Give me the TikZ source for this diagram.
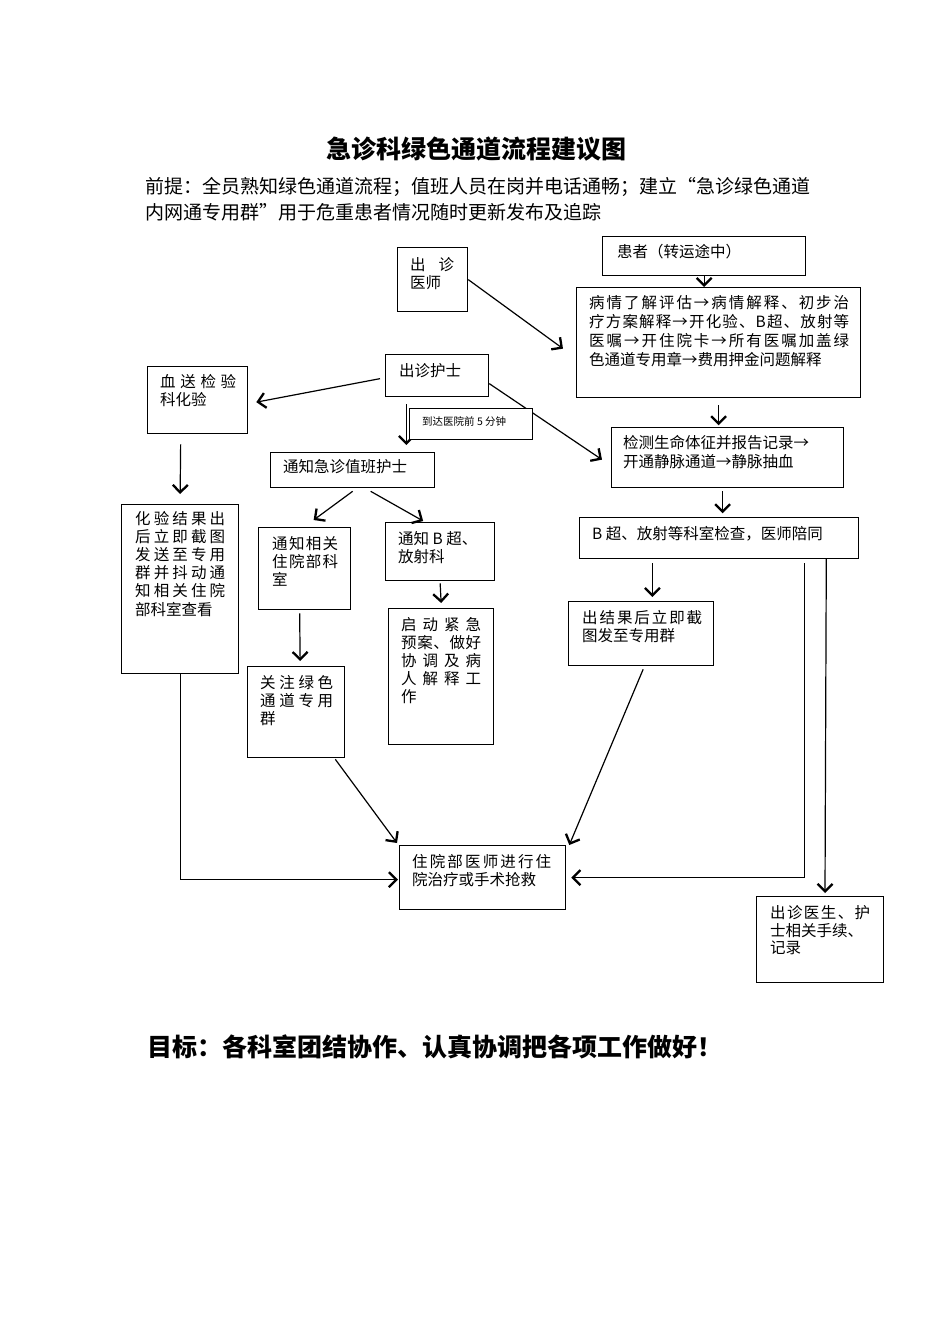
\documentclass[tikz,border=0pt]{standalone}
\usepackage{fontspec}
\setmainfont{Noto Sans CJK SC}
\usetikzlibrary{arrows.meta,calc}
\makeatletter
\def\spr#1{\spr@a#1\spr@end}
\def\spr@end{}
\def\spr@a#1{\ifx#1\spr@end\else#1\expandafter\spr@b\fi}
\def\spr@b#1{\ifx#1\spr@end\else\hfill#1\expandafter\spr@b\fi}
\makeatother
\newcommand\jl[2]{\makebox[#1pt][s]{\spr{#2}}}
\newcommand\tl[2]{\fontsize{15.5}{#1}\selectfont\begin{tabular}[t]{@{}l@{}}#2\end{tabular}}
\newcommand\mkbox[5]{\node[box,anchor=north west,minimum width=#4pt-#2pt,minimum height=#5pt-#3pt] (#1) at (#2,#3) {};}
\begin{document}
\begin{tikzpicture}[x=1pt,y=-1pt,
  box/.style={draw,line width=1.3pt,inner sep=0pt},
  arr/.style={line width=1.2pt,-{Straight Barb[length=7.5pt,width=15pt,line width=2.3pt]}},
  txt/.style={anchor=base west,inner sep=0pt}]
\useasboundingbox (0,0) rectangle (950,1344);
% headings
\node[anchor=base,inner sep=0pt,font=\fontsize{25}{30}\selectfont\bfseries] (title) at (476,158) {急诊科绿色通道流程建议图};
\node[txt] (pre) at (145,193) {\fontsize{19}{26}\selectfont\begin{tabular}[t]{@{}l@{}}前提：全员熟知绿色通道流程；值班人员在岗并电话通畅；建立“急诊绿色通道\\内网通专用群”用于危重患者情况随时更新发布及追踪\end{tabular}};
\node[txt,font=\fontsize{25}{30}\selectfont\bfseries] (goal) at (147,1056) {目标：各科室团结协作、认真协调把各项工作做好！};
% boxes
\mkbox{doc}{397}{247}{467}{311}
\mkbox{pat}{602}{236}{805}{275}
\mkbox{eval}{576}{287}{860}{397}
\mkbox{nurse}{385}{354}{488}{396}
\mkbox{blood}{147}{366}{247}{433}
\mkbox{notify}{270}{452}{434}{487}
\mkbox{vital}{611}{427}{843}{487}
\mkbox{bus}{579}{517}{858}{558}
\mkbox{lab}{121}{504}{238}{673}
\mkbox{ward}{258}{527}{350}{609}
\mkbox{rad}{385}{522}{494}{580}
\mkbox{plan}{388}{608}{493}{744}
\mkbox{watch}{247}{666}{344}{757}
\mkbox{res}{568}{601}{713}{665}
\mkbox{inp}{399}{845}{565}{909}
\mkbox{rec}{756}{896}{883}{982}
% texts
\node[txt] (doc-t) at (410,270) {\tl{17}{\jl{44}{出诊}\\医师}};
\node[txt] (pat-t) at (617,257) {\tl{17}{患者（转运途中）}};
\node[txt] (eval-t) at (589,308) {\tl{19.3}{\jl{260}{病情了解评估→病情解释、初步治}\\\jl{260}{疗方案解释→开化验、B超、放射等}\\\jl{260}{医嘱→开住院卡→所有医嘱加盖绿}\\色通道专用章→费用押金问题解释}};
\node[txt] (nurse-t) at (399,376) {\tl{17}{出诊护士}};
\node[txt] (blood-t) at (160,387) {\tl{17}{\jl{76}{血送检验}\\科化验}};
\node[txt] (notify-t) at (283,472) {\tl{17}{通知急诊值班护士}};
\node[txt] (vital-t) at (623,448) {\tl{19}{检测生命体征并报告记录→\\开通静脉通道→静脉抽血}};
\node[txt] (bus-t) at (592,539) {\tl{17}{B 超、放射等科室检查，医师陪同}};
\node[txt] (lab-t) at (135,524) {\tl{17}{\jl{90}{化验结果出}\\\jl{90}{后立即截图}\\\jl{90}{发送至专用}\\\jl{90}{群并抖动通}\\\jl{90}{知相关住院}\\部科室查看}};
\node[txt] (ward-t) at (272,549) {\tl{17}{\jl{66}{通知相关}\\\jl{66}{住院部科}\\室}};
\node[txt] (rad-t) at (398,544) {\tl{18}{通知 B 超、\\放射科}};
\node[txt] (plan-t) at (401,630) {\tl{17}{\jl{80}{启动紧急}\\\jl{80}{预案、做好}\\\jl{80}{协调及病}\\\jl{80}{人解释工}\\作}};
\node[txt] (watch-t) at (260,688) {\tl{17}{\jl{73}{关注绿色}\\\jl{73}{通道专用}\\群}};
\node[txt] (res-t) at (582,623) {\tl{17}{\jl{120}{出结果后立即截}\\图发至专用群}};
\node[txt] (inp-t) at (412,867) {\tl{17}{\jl{139}{住院部医师进行住}\\院治疗或手术抢救}};
\node[txt] (rec-t) at (770,918) {\tl{17}{\jl{100}{出诊医生、护}\\士相关手续、\\记录}};
% connectors
\draw[arr] (doc.east) -- ($(eval.west)+(-13,6)$);
\draw[arr] (pat.south) -- (pat.south |- eval.north);
\draw[arr] ($(eval.south)+(0,7)$) -- ($(eval.south)+(0,27)$);
\draw[arr] ($(nurse.west)+(-5,3)$) -- ($(blood.east)+(8,2)$);
\draw[arr] ($(nurse.south west)+(21.4,7)$) -- ($(notify.north west)+(136.4,-7)$);
\draw[arr] ($(nurse.east)+(0,8)$) -- ($(vital.west)+(-9,2)$);
\node[box,anchor=north west,fill=white,minimum width=123pt,minimum height=31pt,line width=1pt] (time) at (409,408) {};
\node[txt,font=\fontsize{10.5}{12}\selectfont] (time-t) at (422,425) {到达医院前 5 分钟};
\draw[arr] ($(vital.south)+(-5,3)$) -- ($(vital.south)+(-5,25)$);
\draw[arr] ($(notify.south)+(0,3)$) -- ($(ward.north)+(9,-7)$);
\draw[arr] ($(notify.south)+(18,3)$) -- ($(rad.north)+(-17,-1)$);
\draw[arr] ($(blood.south)+(-17,10)$) -- ($(lab.north)+(0,-10)$);
\draw[arr] ($(ward.south)+(-5,3)$) -- ($(watch.north)+(4,-5)$);
\draw[arr] ($(rad.south)+(0,2)$) -- ($(plan.north)+(0,-5)$);
\draw[arr] ($(bus.south west)+(73.4,4)$) -- ($(res.north west)+(84.4,-4)$);
\draw[arr] (lab.south) |- ($(inp.west)+(-1,2)$);
\draw[arr] ($(watch.south east)+(-10,1)$) -- ($(inp.north west)+(-2,-2)$);
\draw[arr] ($(res.south)+(2,3)$) -- ($(inp.north east)+(3,0)$);
\draw[arr] ($(bus.south east)+(-55,4)$) |- ($(inp.east)+(5,0)$);
\draw[arr] ($(bus.south east)+(-33,-1)$) -- ($(rec.north west)+(69,-3)$);
\end{tikzpicture}
\end{document}
